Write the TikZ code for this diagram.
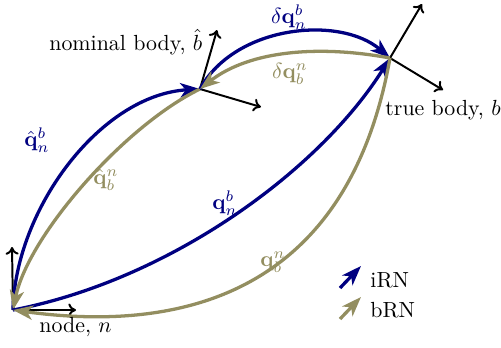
\documentclass[tikz,border=0pt]{standalone}
\usetikzlibrary{arrows.meta}
\definecolor{irn}{RGB}{0,0,128}
\definecolor{brn}{RGB}{147,142,96}
\begin{document}
\begin{tikzpicture}[x=0.457pt,y=-0.457pt,
  rel/.style={line width=1.5pt,-{Stealth[length=9pt,width=6.5pt,inset=2.5pt]}},
  blueline/.style={rel,draw=irn},
  oliveline/.style={rel,draw=brn},
  axis/.style={line width=0.9pt,-{To[length=3.5pt,width=6pt]},black},
  bluelab/.style={text=irn},
  olivelab/.style={text=brn}]
\useasboundingbox (0,0) rectangle (501,347);
% frame origins
\coordinate (n) at (13,310);
\coordinate (nb) at (200,89);
\coordinate (tb) at (390,58);
% axis tips
\coordinate (nx) at (76,310);
\coordinate (ny) at (12,247);
\coordinate (nbx) at (261,107);
\coordinate (nby) at (217,30);
\coordinate (tbx) at (443,90);
\coordinate (tby) at (422,4);
% frames
\draw[axis] (n) -- (nx);
\draw[axis] (n) -- (ny);
\draw[axis] (nb) -- (nbx);
\draw[axis] (nb) -- (nby);
\draw[axis] (tb) -- (tbx);
\draw[axis] (tb) -- (tby);
% relations
\draw[blueline] (n) .. controls (15,210) and (100,95) .. (nb);
\draw[oliveline] (nb) .. controls (124,126) and (28,236) .. (n);
\draw[blueline] (nb) .. controls (235,25) and (340,15) .. (tb);
\draw[oliveline] (tb) .. controls (320,45) and (250,50) .. (nb);
\draw[blueline] (n) .. controls (170,280) and (320,170) .. (tb);
\draw[oliveline] (tb) .. controls (345,310) and (160,330) .. (n);
% labels
\node[anchor=base east] (lnb) at (210,50) {nominal body, $\hat{b}$};
\node[anchor=base west,inner sep=0pt] (ltb) at (385,115) {true body, $b$};
\node[anchor=base west,inner sep=0pt] (ln) at (39,332) {node, $n$};
\node[bluelab] (l1) at (37,140) {$\hat{\mathbf{q}}_n^b$};
\node[olivelab] (l2) at (106,180) {$\hat{\mathbf{q}}_b^n$};
\node[bluelab] (l3) at (225,203) {$\mathbf{q}_n^b$};
\node[olivelab] (l4) at (273,262) {$\mathbf{q}_b^n$};
\node[bluelab] (l5) at (289,17) {$\delta\mathbf{q}_n^b$};
\node[olivelab] (l6) at (290,74) {$\delta\mathbf{q}_b^n$};
% legend
\coordinate (lg1a) at (340,288);
\coordinate (lg1b) at (361,266);
\coordinate (lg2a) at (340,319);
\coordinate (lg2b) at (361,297);
\draw[blueline] (lg1a) -- (lg1b);
\draw[oliveline] (lg2a) -- (lg2b);
\node[anchor=west,inner sep=0pt] (li) at (370,280) {iRN};
\node[anchor=west,inner sep=0pt] (lb) at (370,310) {bRN};
\end{tikzpicture}
\end{document}
